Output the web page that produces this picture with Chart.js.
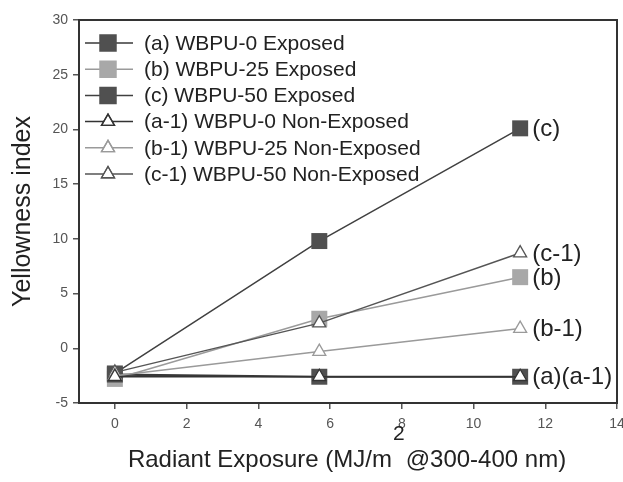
<!DOCTYPE html>
<html>
<head>
<meta charset="utf-8">
<script src="https://cdn.jsdelivr.net/npm/chart.js@4/dist/chart.umd.min.js"></script>
<style>
  html, body { margin: 0; padding: 0; background: #fff; }
  #wrap { width: 623px; height: 482px; }
</style>
</head>
<body>
<div id="wrap"><canvas id="chart" width="623" height="482"></canvas></div>
<script>
// radiant exposure (MJ/m2)
let exposure = [0, 5.7, 11.3];

let seriesNames = [
  '(a) WBPU-0 Exposed',
  '(b) WBPU-25 Exposed',
  '(c) WBPU-50 Exposed',
  '(a-1) WBPU-0 Non-Exposed',
  '(b-1) WBPU-25 Non-Exposed',
  '(c-1) WBPU-50 Non-Exposed'
];

let wbpu0Exposed = [-2.4, -2.6, -2.6];
let wbpu25Exposed = [-2.8, 2.7, 6.5];
let wbpu50Exposed = [-2.3, 9.8, 20.1];
let wbpu0NonExposed = [-2.6, -2.6, -2.6];
let wbpu25NonExposed = [-2.5, -0.3, 1.8];
let wbpu50NonExposed = [-2.2, 2.3, 8.7];

let xTicks = [0, 2, 4, 6, 8, 10, 12, 14];
let yTicks = [-5, 0, 5, 10, 15, 20, 25, 30];

// end-of-line labels: text, dataset index
let endLabels = [
  ['(c)', 2],
  ['(c-1)', 5],
  ['(b)', 1],
  ['(b-1)', 4],
  ['(a)(a-1)', 3]
];

const FONT = 'Arial, "Liberation Sans", sans-serif';

function pts(arr) {
  return exposure.map((x, i) => ({ x: x, y: arr[i] }));
}

let styles = [
  { line: '#383838', fill: '#505050', shape: 'rect', r: 11.3, w: 2.2 },
  { line: '#9a9a9a', fill: '#a8a8a8', shape: 'rect', r: 11.3, w: 1.5 },
  { line: '#404040', fill: '#505050', shape: 'rect', r: 11.3, w: 1.5 },
  { line: '#333333', fill: '#ffffff', shape: 'triangle', r: 7.5, w: 1.5 },
  { line: '#9a9a9a', fill: '#ffffff', shape: 'triangle', r: 7.5, w: 1.5 },
  { line: '#555555', fill: '#ffffff', shape: 'triangle', r: 7.5, w: 1.5 }
];

let allData = [wbpu0Exposed, wbpu25Exposed, wbpu50Exposed,
  wbpu0NonExposed, wbpu25NonExposed, wbpu50NonExposed];

let datasets = allData.map((d, i) => ({
  label: seriesNames[i],
  data: pts(d),
  showLine: true,
  borderColor: styles[i].line,
  borderWidth: styles[i].w,
  pointStyle: styles[i].shape,
  pointRadius: styles[i].r,
  pointHoverRadius: styles[i].r,
  pointBackgroundColor: styles[i].fill,
  pointBorderColor: styles[i].shape === 'rect' ? styles[i].fill : styles[i].line,
  pointBorderWidth: styles[i].shape === 'rect' ? 0 : 1.3,
  order: styles[i].shape === 'rect' ? 2 : 1
}));

// frame, legend, end labels and x title
let extras = {
  id: 'extras',
  afterDatasetsDraw(chart) {
    let ctx = chart.ctx;
    let a = chart.chartArea;
    let xs = chart.scales.x, ys = chart.scales.y;
    ctx.save();
    ctx.strokeStyle = '#333';
    ctx.lineWidth = 2;
    ctx.strokeRect(a.left, a.top, a.right - a.left, a.bottom - a.top);

    // legend
    ctx.font = '21px ' + FONT;
    ctx.textBaseline = 'middle';
    ctx.textAlign = 'left';
    seriesNames.forEach((name, i) => {
      let y = 43 + i * 26.2;
      let s = styles[i];
      ctx.strokeStyle = s.line;
      ctx.lineWidth = 1.5;
      ctx.beginPath();
      ctx.moveTo(85, y);
      ctx.lineTo(133, y);
      ctx.stroke();
      ctx.fillStyle = s.fill;
      ctx.strokeStyle = s.shape === 'rect' ? s.fill : s.line;
      ctx.lineWidth = s.shape === 'rect' ? 0 : 1.3;
      Chart.helpers.drawPoint(ctx, { pointStyle: s.shape, radius: s.r, borderWidth: ctx.lineWidth }, 108, y);
      if (s.shape !== 'rect') ctx.stroke();
      ctx.fillStyle = '#222';
      ctx.fillText(name, 144, y + 1);
    });

    // end labels
    ctx.font = '24px ' + FONT;
    ctx.fillStyle = '#222';
    endLabels.forEach(([txt, di]) => {
      let d = allData[di];
      let px = xs.getPixelForValue(exposure[exposure.length - 1]);
      let py = ys.getPixelForValue(d[d.length - 1]);
      ctx.fillText(txt, px + 12, py + 1);
    });

    // x axis title with superscript, anchored at the superscript
    ctx.fillStyle = '#222';
    ctx.textBaseline = 'alphabetic';
    let mainFont = '24px ' + FONT, supFont = '21px ' + FONT;
    let p1 = 'Radiant Exposure (MJ/m', sup = '2', p2 = '@300-400 nm)';
    ctx.font = mainFont;
    let w1 = ctx.measureText(p1).width;
    let w3 = ctx.measureText(p2).width;
    ctx.font = supFont;
    let w2 = ctx.measureText(sup).width;
    let anchor = Math.round(346 - (w1 + w2 + w3) / 2 + w1);
    let ty = 467;
    ctx.font = mainFont;
    ctx.textAlign = 'right';
    ctx.fillText(p1, anchor, ty);
    ctx.font = supFont;
    ctx.textAlign = 'left';
    ctx.fillText(sup, anchor + 1, ty - 27);
    ctx.font = mainFont;
    ctx.fillText(p2, anchor + w2 + 2, ty);
    ctx.restore();
  }
};

let tickFont = { size: 14, family: FONT };

let chartOptions = {
  responsive: false,
  animation: false,
  layout: { autoPadding: false, padding: { left: 0, top: 20, right: 6, bottom: 0 } },
  plugins: {
    legend: { display: false },
    tooltip: { enabled: false }
  },
  scales: {
    x: {
      type: 'linear',
      min: -1,
      max: 14,
      afterBuildTicks: s => { s.ticks = xTicks.map(v => ({ value: v })); },
      afterFit: s => { s.height = 79; s.paddingLeft = 0; s.paddingRight = 0; },
      grid: { drawOnChartArea: false, tickLength: 6, color: '#555', lineWidth: 1.5 },
      border: { display: true, color: '#333', width: 2 },
      ticks: { color: '#555', font: tickFont, padding: 7, maxRotation: 0 }
    },
    y: {
      min: -5,
      max: 30,
      afterBuildTicks: s => { s.ticks = yTicks.map(v => ({ value: v })); },
      afterFit: s => { s.width = 79; s.paddingTop = 0; s.paddingBottom = 0; },
      grid: { drawOnChartArea: false, tickLength: 6, color: '#555', lineWidth: 1.5 },
      border: { display: true, color: '#333', width: 2 },
      ticks: { color: '#555', font: tickFont, padding: 5 },
      title: {
        display: true,
        text: 'Yellowness index',
        color: '#222',
        font: { size: 25, family: FONT },
        padding: { top: 8, bottom: 0 }
      }
    }
  }
};

let myChart = new Chart(document.getElementById('chart'), {
  type: 'scatter',
  data: { datasets: datasets },
  options: chartOptions,
  plugins: [extras]
});
</script>
</body>
</html>
